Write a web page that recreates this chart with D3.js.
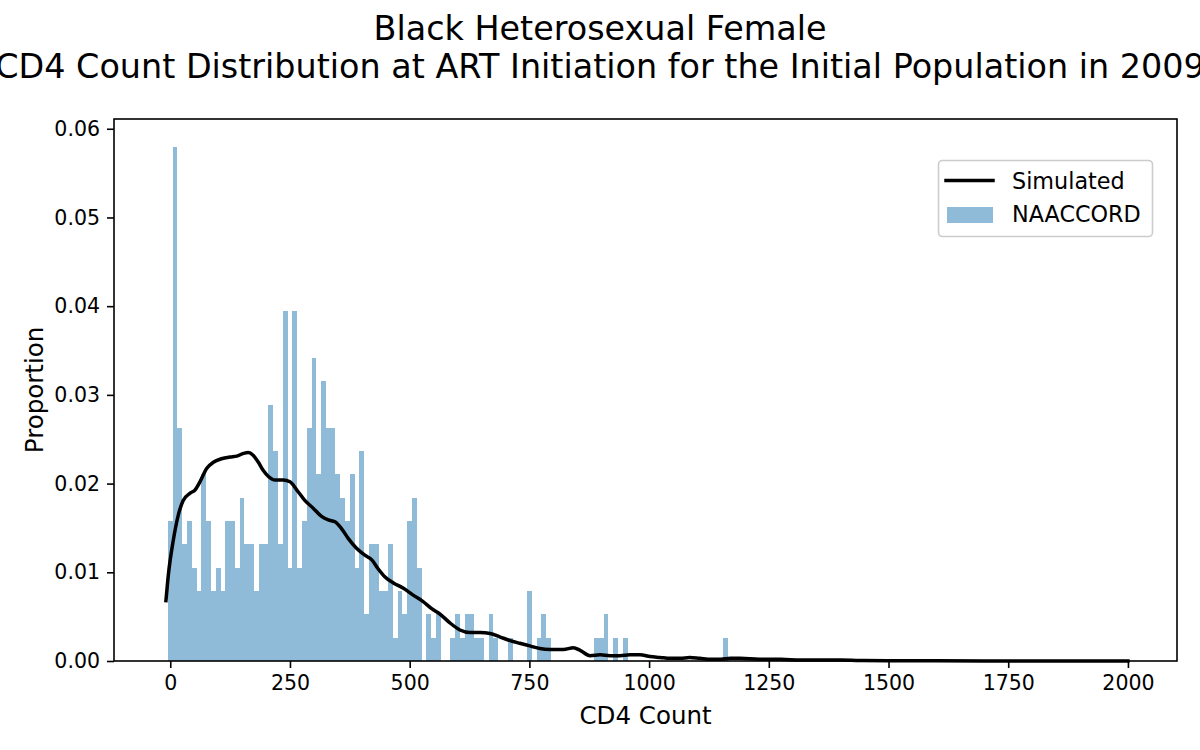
<!DOCTYPE html>
<html>
<head>
<meta charset="utf-8">
<script src="https://cdn.jsdelivr.net/npm/d3@7"></script>
<style>
  body { margin: 0; background: #fff; }
  svg text { font-family: "DejaVu Sans", sans-serif; fill: #000; }
</style>
</head>
<body>
<div id="chart"></div>
<script>
// NAACCORD histogram: bin centres (width 10) and proportions
var binCenters = [0, 10, 20, 30, 40, 50, 60, 70, 80, 90,
  100, 110, 120, 130, 140, 150, 160, 170, 180, 190,
  200, 210, 220, 230, 240, 250, 260, 270, 280, 290,
  300, 310, 320, 330, 340, 350, 360, 370, 380, 390,
  400, 410, 420, 430, 440, 450, 460, 470, 480, 490,
  500, 510, 520, 540, 550, 560, 590,
  600, 610, 620, 630, 640, 650, 670, 680,
  710, 750, 770, 780, 790,
  890, 900, 910, 930, 950, 1160]
var naaccordProp = [0.0158, 0.0579, 0.0263, 0.0132, 0.0158, 0.0105, 0.0079, 0.0211, 0.0158, 0.0079,
  0.0105, 0.0079, 0.0158, 0.0158, 0.0105, 0.0184, 0.0132, 0.0132, 0.0079, 0.0132,
  0.0132, 0.0289, 0.0237, 0.0132, 0.0395, 0.0105, 0.0395, 0.0105, 0.0158, 0.0263,
  0.0342, 0.0211, 0.0316, 0.0263, 0.0263, 0.0211, 0.0184, 0.0158, 0.0211, 0.0105,
  0.0237, 0.0053, 0.0132, 0.0132, 0.0079, 0.0079, 0.0132, 0.0026, 0.0079, 0.0053,
  0.0158, 0.0184, 0.0105, 0.0053, 0.0026, 0.0053, 0.0026,
  0.0053, 0.0026, 0.0053, 0.0053, 0.0026, 0.0026, 0.0053, 0.0026,
  0.0026, 0.0079, 0.0026, 0.0053, 0.0026,
  0.0026, 0.0026, 0.0053, 0.0026, 0.0026, 0.0026]
var binWidth = 10

// Simulated density curve
var simX = [-9, -4, 6, 17, 27, 41, 52, 62, 76, 90,
  107, 125, 139, 153, 163, 173, 184, 194, 205, 219,
  236, 250, 264, 281, 299, 316, 330, 344, 358, 372,
  389, 407, 421, 434, 448, 466, 487, 508, 528, 546,
  563, 584, 605, 626, 647, 668, 689, 710, 730, 751,
  772, 793, 821, 842, 856, 877, 898, 918, 939, 960,
  981, 1002, 1023, 1044, 1065, 1085, 1106, 1130, 1150, 1170,
  1190, 1230, 1275, 1315, 1360, 1400, 1440, 1500, 1600, 1700,
  1800, 1900, 2000]
var simY = [0.0068, 0.0097, 0.0135, 0.0165, 0.0181, 0.0189, 0.0193, 0.0202, 0.0217, 0.0224,
  0.0228, 0.0230, 0.0231, 0.0234, 0.0235, 0.0232, 0.0224, 0.0215, 0.0208, 0.0204,
  0.0204, 0.0202, 0.0193, 0.0181, 0.0172, 0.0163, 0.0159, 0.0157, 0.0149, 0.0138,
  0.0127, 0.0119, 0.0114, 0.0104, 0.0095, 0.0088, 0.0082, 0.0074, 0.0067, 0.0059,
  0.0053, 0.0043, 0.0035, 0.0032, 0.0032, 0.0031, 0.0027, 0.0023, 0.0020, 0.0017,
  0.0014, 0.0013, 0.0013, 0.0015, 0.0012, 0.0006, 0.0007, 0.0006, 0.0006, 0.0007,
  0.0007, 0.0005, 0.0004, 0.0003, 0.0003, 0.0004, 0.0003, 0.0002, 0.0002, 0.0003,
  0.0003, 0.0002, 0.0002, 0.0001, 0.0001, 0.0001, 0.00005, 0.00003, 0.00002, 0.00001,
  0.00001, 0.00001, 0.00001]

var xTicks = [0, 250, 500, 750, 1000, 1250, 1500, 1750, 2000]
var yTicks = [0, 0.01, 0.02, 0.03, 0.04, 0.05, 0.06]
var titleLines = ["Black Heterosexual Female",
  "CD4 Count Distribution at ART Initiation for the Initial Population in 2009"]
var legendItems = ["Simulated", "NAACCORD"]

var width = 1200, height = 750
var margin = { left: 114, right: 23, top: 119, bottom: 89 }
var plotW = width - margin.left - margin.right
var plotH = height - margin.top - margin.bottom

var svg = d3.select("#chart").append("svg")
  .attr("width", width)
  .attr("height", height)

var x = d3.scaleLinear().domain([-117.5, 2102.5]).range([margin.left, margin.left + plotW])
var y = d3.scaleLinear().domain([0, 0.0611]).range([margin.top + plotH, margin.top])

var histColor = "#8fbbd9"

// histogram bars
svg.append("g")
  .selectAll("rect")
  .data(binCenters)
  .enter().append("rect")
    .attr("x", function (d) { return x(d - binWidth / 2) })
    .attr("width", function (d) { return x(d + binWidth / 2) - x(d - binWidth / 2) })
    .attr("y", function (d, i) { return y(naaccordProp[i]) })
    .attr("height", function (d, i) { return y(0) - y(naaccordProp[i]) })
    .attr("fill", histColor)
    .attr("shape-rendering", "crispEdges")

// simulated line
var line = d3.line()
  .x(function (d) { return x(d[0]) })
  .y(function (d) { return y(d[1]) })
  .curve(d3.curveMonotoneX)

svg.append("path")
  .datum(d3.zip(simX, simY))
  .attr("d", line)
  .attr("fill", "none")
  .attr("stroke", "#000")
  .attr("stroke-width", 3.5)
  .attr("stroke-linecap", "square")
  .attr("stroke-linejoin", "round")

// axes frame
svg.append("rect")
  .attr("x", margin.left)
  .attr("y", margin.top)
  .attr("width", plotW)
  .attr("height", plotH)
  .attr("fill", "none")
  .attr("stroke", "#000")
  .attr("stroke-width", 1.6)

var xAxis = d3.axisBottom(x).tickValues(xTicks).tickSize(7).tickPadding(7)
  .tickFormat(d3.format("d"))
var gx = svg.append("g")
  .attr("transform", "translate(0," + (margin.top + plotH) + ")")
  .call(xAxis)
gx.select(".domain").remove()
gx.selectAll("line").attr("stroke", "#000").attr("stroke-width", 1.6)
gx.selectAll("text").style("font-size", "20.5px").attr("fill", "#000")

var yAxis = d3.axisLeft(y).tickValues(yTicks).tickSize(7).tickPadding(7)
  .tickFormat(d3.format(".2f"))
var gy = svg.append("g")
  .attr("transform", "translate(" + margin.left + ",0)")
  .call(yAxis)
gy.select(".domain").remove()
gy.selectAll("line").attr("stroke", "#000").attr("stroke-width", 1.6)
gy.selectAll("text").style("font-size", "20.5px").attr("fill", "#000")

// axis labels
svg.append("text")
  .attr("x", margin.left + plotW / 2)
  .attr("y", 724)
  .attr("text-anchor", "middle")
  .style("font-size", "24.5px")
  .text("CD4 Count")

svg.append("text")
  .attr("transform", "translate(43," + (margin.top + plotH / 2) + ") rotate(-90)")
  .attr("text-anchor", "middle")
  .style("font-size", "24.5px")
  .text("Proportion")

// title
svg.selectAll(".title")
  .data(titleLines)
  .enter().append("text")
    .attr("class", "title")
    .attr("x", width / 2)
    .attr("y", function (d, i) { return 40 + i * 38 })
    .attr("text-anchor", "middle")
    .style("font-size", "33.4px")
    .text(function (d) { return d })

// legend
var legend = svg.append("g")
legend.append("rect")
  .attr("x", 938.5)
  .attr("y", 160.5)
  .attr("width", 214)
  .attr("height", 76)
  .attr("rx", 4)
  .attr("fill", "#fff")
  .attr("fill-opacity", 0.8)
  .attr("stroke", "#cccccc")
  .attr("stroke-width", 1.6)

legend.append("line")
  .attr("x1", 946).attr("x2", 993)
  .attr("y1", 180.5).attr("y2", 180.5)
  .attr("stroke", "#000")
  .attr("stroke-width", 3.5)
  .attr("stroke-linecap", "square")

legend.append("rect")
  .attr("x", 947).attr("y", 207)
  .attr("width", 46).attr("height", 16)
  .attr("fill", histColor)

legend.selectAll(".legend-label")
  .data(legendItems)
  .enter().append("text")
    .attr("class", "legend-label")
    .attr("x", 1012)
    .attr("y", function (d, i) { return 189 + i * 33 })
    .style("font-size", "22.3px")
    .text(function (d) { return d })
</script>
</body>
</html>
